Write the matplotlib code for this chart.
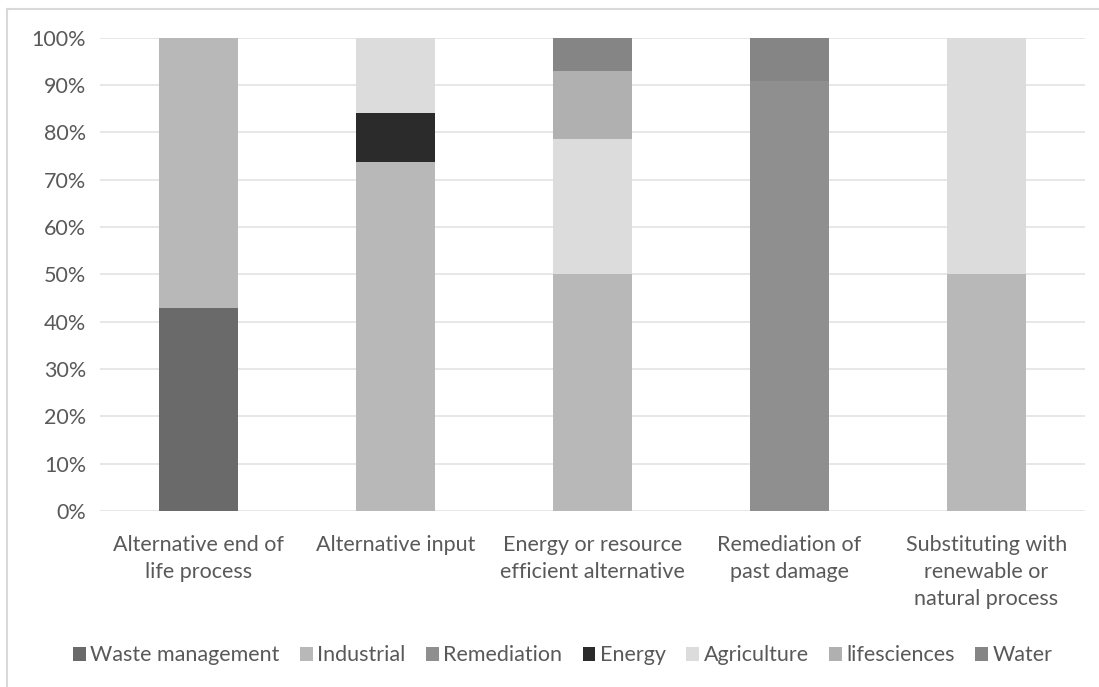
import numpy as np
import matplotlib.pyplot as plt
from matplotlib.lines import Line2D
from matplotlib.ticker import PercentFormatter

plt.rcParams['font.family'] = ['Lato', 'DejaVu Sans']

categories = ['Alternative end of\nlife process', 'Alternative input',
              'Energy or resource\nefficient alternative', 'Remediation of\npast damage',
              'Substituting with\nrenewable or\nnatural process']

# share of each sector within a solution type (%)
waste_management = [42.9, 0, 0, 0, 0]
industrial = [57.1, 73.7, 50.0, 0, 50.0]
remediation = [0, 0, 0, 90.9, 0]
energy = [0, 10.5, 0, 0, 0]
agriculture = [0, 15.8, 28.6, 0, 50.0]
lifesciences = [0, 0, 14.3, 0, 0]
water = [0, 0, 7.1, 9.1, 0]

series = ['Waste management', 'Industrial', 'Remediation', 'Energy',
          'Agriculture', 'lifesciences', 'Water']
colors = ['#6a6a6a', '#b8b8b8', '#8f8f8f', '#2b2b2b', '#dcdcdc', '#b0b0b0', '#858585']
values = [waste_management, industrial, remediation, energy,
          agriculture, lifesciences, water]

fig = plt.figure(figsize=(10.99, 6.87), dpi=100)
ax = fig.add_axes([0.091, 0.256, 0.896, 0.689])

x = np.arange(len(categories))
bottom = np.zeros(len(categories))
for name, vals, col in zip(series, values, colors):
    vals = np.array(vals, dtype=float)
    ax.bar(x, vals, 0.4, bottom=bottom, color=col, label=name, zorder=3)
    bottom += vals

ax.set_xlim(-0.5, len(categories) - 0.5)
ax.set_ylim(0, 100)
ax.set_yticks(np.arange(0, 101, 10))
ax.yaxis.set_major_formatter(PercentFormatter(decimals=0))
ax.set_xticks(x)
ax.set_xticklabels(categories, linespacing=1.45)
ax.grid(axis='y', color='#e3e3e3', linewidth=1.2, zorder=0)
for s in ax.spines.values():
    s.set_visible(False)
ax.tick_params(length=0, labelsize=15.5, colors='#595959', pad=17)
ax.tick_params(axis='y', pad=10)

# chart frame: top and left edges
fig.add_artist(Line2D([0.0065, 1.0], [0.987, 0.987], color='#d9d9d9', lw=1.5))
fig.add_artist(Line2D([0.0065, 0.0065], [0.0, 0.987], color='#d9d9d9', lw=1.5))

leg = fig.legend(loc='center', bbox_to_anchor=(0.512, 0.046), ncol=7, frameon=False,
                 fontsize=15.5, handlelength=0.6, handleheight=0.6, handletextpad=0.2,
                 columnspacing=0.95, labelcolor='#595959')

fig.savefig('out.png', dpi=100)
